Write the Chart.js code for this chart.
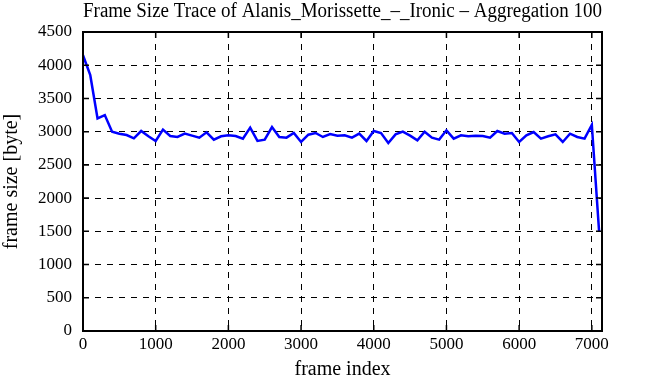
<!DOCTYPE html>
<html>
<head>
<meta charset="utf-8">
<script src="https://cdn.jsdelivr.net/npm/chart.js@4"></script>
<style>
  body { margin: 0; background: #fff; }
  #wrap { width: 670px; height: 380px; }
</style>
</head>
<body>
<div id="wrap"><canvas id="trace" width="670" height="380"></canvas></div>
<script>
// frame index of each aggregated point (step 100)
var frames = [];
for (var f = 0; f <= 7100; f += 100) frames.push(f);

// frame size [byte]
var sizes = [
    4150, 3850, 3200, 3250, 3000, 2970, 2950, 2900, 3010, 2930,
    2860, 3030, 2935, 2920, 2970, 2940, 2910, 2990, 2880, 2930,
    2945, 2935, 2895, 3060, 2860, 2880, 3070, 2920, 2910, 2980,
    2845, 2955, 2980, 2920, 2965, 2940, 2945, 2910, 2970, 2860,
    3010, 2980, 2830, 2960, 3000, 2940, 2870, 3000, 2910, 2880,
    3020, 2895, 2945, 2930, 2940, 2935, 2910, 3010, 2970, 2980,
    2845, 2945, 2995, 2895, 2930, 2960, 2845, 2970, 2920, 2895,
    3100, 1500
];

var xTicks = [0, 1000, 2000, 3000, 4000, 5000, 6000, 7000];
var yTicks = [0, 500, 1000, 1500, 2000, 2500, 3000, 3500, 4000, 4500];

var serif = "'Liberation Serif', 'DejaVu Serif', serif";

var points = frames.map(function (x, i) { return { x: x, y: sizes[i] }; });

// box round the plot area plus small inward tick marks
var frame_box = {
    id: 'frame_box',
    afterDraw: function (chart) {
        var c = chart.ctx, a = chart.chartArea;
        var xs = chart.scales.x, ys = chart.scales.y;
        c.save();
        c.strokeStyle = '#000';
        c.lineWidth = 2;
        c.setLineDash([]);
        c.strokeRect(a.left, a.top, a.right - a.left, a.bottom - a.top);
        c.lineWidth = 1.5;
        c.beginPath();
        xTicks.forEach(function (t) {
            var px = xs.getPixelForValue(t);
            c.moveTo(px, a.bottom); c.lineTo(px, a.bottom - 6);
            c.moveTo(px, a.top); c.lineTo(px, a.top + 6);
        });
        yTicks.forEach(function (t) {
            var py = ys.getPixelForValue(t);
            c.moveTo(a.left, py); c.lineTo(a.left + 6, py);
            c.moveTo(a.right, py); c.lineTo(a.right - 6, py);
        });
        c.stroke();
        c.restore();
    }
};

var chart = new Chart(document.getElementById('trace'), {
    type: 'line',
    data: {
        datasets: [{
            data: points,
            borderColor: '#0000ff',
            borderWidth: 2.5,
            pointRadius: 0,
            tension: 0,
            fill: false
        }]
    },
    options: {
        responsive: false,
        animation: false,
        layout: { padding: { left: 0, right: 68, top: 0, bottom: 0 } },
        plugins: {
            legend: { display: false },
            tooltip: { enabled: false },
            title: {
                display: true,
                fullSize: false,
                text: 'Frame Size Trace of Alanis_Morissette_\u2013_Ironic \u2013 Aggregation 100',
                color: '#000',
                font: { family: serif, size: 20, weight: 'normal', lineHeight: 1.2 },
                padding: { top: 0, bottom: 8 }
            }
        },
        scales: {
            x: {
                type: 'linear',
                min: 0,
                max: 7140,
                afterBuildTicks: function (s) {
                    s.ticks = xTicks.map(function (v) { return { value: v }; });
                },
                grid: { color: '#000', lineWidth: 1, drawTicks: false },
                border: { display: false, dash: [6, 6] },
                ticks: {
                    color: '#000', font: { family: serif, size: 17, lineHeight: 1 }, padding: 5, maxRotation: 0,
                    callback: function (v) { return String(v); }
                },
                title: {
                    display: true, text: 'frame index', color: '#000',
                    font: { family: serif, size: 20, lineHeight: 1 }, padding: { top: 2, bottom: 0 }
                }
            },
            y: {
                min: 0,
                max: 4500,
                afterBuildTicks: function (s) {
                    s.ticks = yTicks.map(function (v) { return { value: v }; });
                },
                grid: { color: '#000', lineWidth: 1, drawTicks: false },
                border: { display: false, dash: [6, 6] },
                ticks: {
                    color: '#000', font: { family: serif, size: 17 }, padding: 11,
                    callback: function (v) { return String(v); }
                },
                title: {
                    display: true, text: 'frame size [byte]', color: '#000',
                    font: { family: serif, size: 20, lineHeight: 1.2 }, padding: { top: 0, bottom: 3 }
                }
            }
        }
    },
    plugins: [frame_box]
});
</script>
</body>
</html>
